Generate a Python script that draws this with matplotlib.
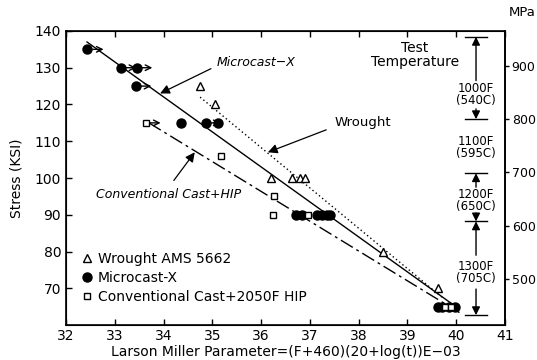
import matplotlib
matplotlib.use("Agg")
import matplotlib.pyplot as plt

# Microcast-X (filled circles)
mc_x = [32.43, 33.12, 33.45, 33.43, 34.36, 34.87, 35.12,
        36.72, 36.85, 37.15, 37.25, 37.35, 37.42,
        39.62, 39.72, 39.85, 39.97]
mc_y = [135, 130, 130, 125, 115, 115, 115,
        90, 90, 90, 90, 90, 90,
        65, 65, 65, 65]
# runout arrows (x start, stress)
run_x = [32.55, 33.22, 33.55, 33.53, 34.95, 33.72]
run_y = [135, 130, 130, 125, 115, 115]

# Wrought AMS 5662 (open triangles)
wr_x = [34.75, 35.05, 36.2, 36.63, 36.8, 36.9, 38.5, 39.62]
wr_y = [125, 120, 100, 100, 100, 100, 80, 70]

# Conventional Cast + 2050F HIP (open squares)
cc_x = [33.64, 35.18, 36.27, 36.25, 36.97, 39.78, 39.9]
cc_y = [115, 106, 95, 90, 90, 65, 65]

# fitted lines
mc_line_x = [32.43, 40.05]
mc_line_y = [137, 64.5]
wr_line_x = [34.75, 39.72]
wr_line_y = [122, 67.5]
cc_line_x = [33.7, 40.07]
cc_line_y = [115, 63.4]

# test temperature bands (ksi)
band_edges = [138.4, 116.0, 101.3, 88.2, 62.7]
band_labels = ["1000F\n(540C)", "1100F\n(595C)", "1200F\n(650C)", "1300F\n(705C)"]
band_label_y = [122.6, 108.4, 94.0, 74.3]

KSI_TO_MPA = 6.895

fig = plt.figure(figsize=(5.37, 3.6), dpi=100)
ax = fig.add_axes([0.123, 0.097, 0.817, 0.817])

ax.plot(mc_line_x, mc_line_y, color="black", lw=1.0)
ax.plot(wr_line_x, wr_line_y, color="black", lw=1.0, ls=(0, (1, 2)))
ax.plot(cc_line_x, cc_line_y, color="black", lw=1.0, ls=(0, (10, 3, 2, 3)))

ax.plot(mc_x, mc_y, "o", color="black", ms=6.5, label="Microcast-X")
ax.plot(wr_x, wr_y, "^", mfc="white", mec="black", mew=1.0, ms=6,
        label="Wrought AMS 5662", ls="none")
ax.plot(cc_x, cc_y, "s", mfc="white", mec="black", mew=1.0, ms=4.5,
        label="Conventional Cast+2050F HIP", ls="none")

for x, y in zip(run_x, run_y):
    ax.annotate("", xy=(x + 0.22, y), xytext=(x, y),
                arrowprops=dict(arrowstyle="->", lw=1.0, color="black",
                                shrinkA=0, shrinkB=0))

arrow_kw = dict(arrowstyle="-|>", lw=0.9, color="black", mutation_scale=14)
ax.annotate("Microcast\u2212X", xy=(33.93, 123), xytext=(35.08, 131.5),
            fontsize=9, style="italic", va="center",
            arrowprops=dict(arrow_kw, shrinkA=2, shrinkB=0, relpos=(0, 0.2)))
ax.annotate("Wrought", xy=(36.14, 107), xytext=(37.5, 115),
            fontsize=9.5, va="center",
            arrowprops=dict(arrow_kw, shrinkA=4, shrinkB=0, relpos=(0, 0.2)))
ax.annotate("Conventional Cast+HIP", xy=(34.64, 107), xytext=(34.1, 95.6),
            fontsize=9, style="italic", ha="center", va="center",
            arrowprops=dict(arrow_kw, shrinkA=4, shrinkB=0, relpos=(0.5, 1)))

ax.text(39.15, 133.4, "Test\nTemperature", ha="center", va="center",
        fontsize=10, linespacing=1.0)

# temperature band markers
bx = 40.41
for e in band_edges:
    ax.plot([bx - 0.23, bx + 0.23], [e, e], color="black", lw=1.0)
for lab, ly in zip(band_labels, band_label_y):
    ax.text(bx, ly, lab, ha="center", va="center", fontsize=8.5,
            linespacing=0.9)
head = dict(arrowstyle="-|>", lw=1.0, color="black", mutation_scale=12,
            shrinkA=0, shrinkB=0)
ax.annotate("", xy=(bx, band_edges[0]), xytext=(bx, 126.5), arrowprops=head)
ax.annotate("", xy=(bx, band_edges[1]), xytext=(bx, 118.8), arrowprops=head)
ax.annotate("", xy=(bx, band_edges[2]), xytext=(bx, 97.5), arrowprops=head)
ax.annotate("", xy=(bx, band_edges[3]), xytext=(bx, 90.5), arrowprops=head)
ax.annotate("", xy=(bx, band_edges[3]), xytext=(bx, 79.0), arrowprops=head)
ax.annotate("", xy=(bx, band_edges[4]), xytext=(bx, 69.8), arrowprops=head)

ax.set_xlim(32, 41)
ax.set_ylim(60, 140)
ax.set_xticks(range(32, 42))
ax.set_yticks(range(70, 141, 10))
ax.tick_params(direction="in", top=True, labelsize=10, length=4, width=1.0)
ax.tick_params(axis="x", pad=3)
for s in ax.spines.values():
    s.set_linewidth(1.2)
ax.set_xlabel("Larson Miller Parameter=(F+460)(20+log(t))E\u221203",
              fontsize=10, labelpad=1)
ax.set_ylabel("Stress (KSI)", fontsize=10, labelpad=8)

ax2 = ax.twinx()
ax2.set_ylim(60 * KSI_TO_MPA, 140 * KSI_TO_MPA)
ax2.set_yticks([500, 600, 700, 800, 900])
ax2.tick_params(direction="out", labelsize=9, length=3, width=1.0, pad=2)
ax2.spines["right"].set_linewidth(1.2)
fig.text(0.972, 0.965, "MPa", fontsize=9.5, ha="center", va="center")

handles, labels = ax.get_legend_handles_labels()
order = [1, 0, 2]
ax.legend([handles[i] for i in order], [labels[i] for i in order],
          loc="lower left", bbox_to_anchor=(0.0, 0.03), frameon=False,
          fontsize=10, handletextpad=0.2, labelspacing=0.35,
          handlelength=1.2)

fig.savefig("out.png", dpi=100)
